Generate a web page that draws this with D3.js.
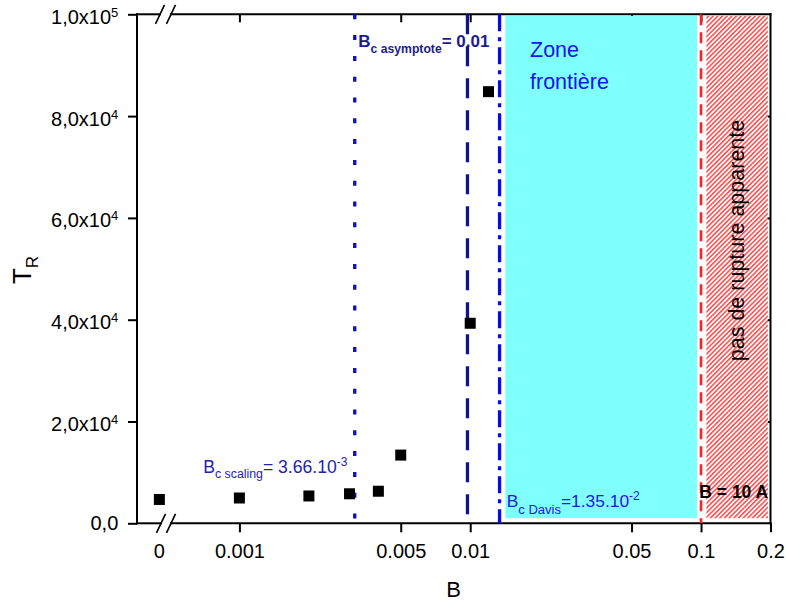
<!DOCTYPE html>
<html><head><meta charset="utf-8">
<script src="https://cdn.jsdelivr.net/npm/d3@7"></script>
<style>body{margin:0;background:#fff} svg{display:block;font-family:"Liberation Sans",Arial,sans-serif}</style>
</head><body><svg id="c" width="788" height="608"></svg>
<script>
// ---- data ----
const B  = [0, 0.001, 0.002, 0.003, 0.004, 0.005, 0.01, 0.012];
const TR = [4680, 4970, 5370, 5800, 6300, 13400, 39300, 84800];
const xTickValues = [0.001, 0.005, 0.01, 0.05, 0.1, 0.2];
const xTickLabels = ["0.001", "0.005", "0.01", "0.05", "0.1", "0.2"];
const zeroTickLabel = "0";
const ZERO_STANDIN = 0.00045;   // where B = 0 sits after the axis break
const yTickValues = [0, 20000, 40000, 60000, 80000, 100000];
const yTickMantissa = ["0,0", "2,0x10", "4,0x10", "6,0x10", "8,0x10", "1,0x10"];
const yTickExponent = ["", "4", "4", "4", "4", "5"];
const lineScaling = 0.00316, lineAsymptote = 0.00973, lineDavis = 0.0134, lineRupture = 0.1;
const zoneFrontiere = [0.0142, 0.0961];
const zoneRupture = [0.1055, 0.1948];
const zoneTR = [1000, 99700];

// ---- setup ----
const svg = d3.select("#c");
const L = 137, R = 770.5, T = 14.3, Bm = 523.3;
const x = d3.scaleLog().domain([0.00036, 0.2]).range([L, R]);
const y = d3.scaleLinear().domain([0, 100000]).range([Bm, T]);
const xp = v => v === 0 ? x(ZERO_STANDIN) : x(v);

const defs = svg.append("defs");
const pat = defs.append("pattern").attr("id", "hatch").attr("patternUnits", "userSpaceOnUse")
  .attr("width", 3.3).attr("height", 10).attr("patternTransform", "rotate(45)");
pat.append("rect").attr("width", 3.3).attr("height", 10).attr("fill", "#fff");
pat.append("line").attr("x1", 0.8).attr("x2", 0.8).attr("y1", 0).attr("y2", 10)
  .attr("stroke", "#ff2a2a").attr("stroke-width", 1.3);

// ---- axes ----
function styleTicks(g) {
  g.select(".domain").remove();
  g.selectAll(".tick line").attr("stroke", "#000").attr("stroke-width", 2);
  g.selectAll(".tick text").attr("fill", "#000").attr("font-size", 20)
    .attr("font-family", "'Liberation Sans', Arial, sans-serif");
}
const gx = svg.append("g").attr("transform", `translate(0,${Bm})`)
  .call(d3.axisBottom(x).tickValues(xTickValues).tickFormat((d, i) => xTickLabels[i]).tickSize(9).tickPadding(11.5));
styleTicks(gx);
gx.append("text").attr("x", xp(0)).attr("y", 20.5).attr("dy", "0.71em").attr("text-anchor", "middle")
  .attr("fill", "#000").attr("font-size", 20).text(zeroTickLabel);

const gxt = svg.append("g").attr("transform", `translate(0,${T})`)
  .call(d3.axisTop(x).tickValues(xTickValues.slice(0, 5)).tickFormat("").tickSize(-8));
styleTicks(gxt);

const gy = svg.append("g").attr("transform", `translate(${L},0)`)
  .call(d3.axisLeft(y).tickValues(yTickValues).tickFormat("").tickSize(9).tickPadding(9.7));
styleTicks(gy);
gy.selectAll(".tick text").each(function (d, i) {
  const t = d3.select(this);
  t.attr("dy", yTickExponent[i] ? "0.45em" : "0.33em");
  t.append("tspan").text(yTickMantissa[i]);
  if (yTickExponent[i]) t.append("tspan").attr("font-size", 13).attr("dy", -7).text(yTickExponent[i]);
});

const gyr = svg.append("g").attr("transform", `translate(${R},0)`)
  .call(d3.axisRight(y).tickValues(yTickValues.slice(1, 5)).tickFormat("").tickSize(-4));
styleTicks(gyr);

// frame lines with breaks
const frame = svg.append("g").attr("stroke", "#000").attr("stroke-width", 2).attr("stroke-linecap", "square");
frame.append("line").attr("x1", L).attr("x2", 161).attr("y1", Bm).attr("y2", Bm);
frame.append("line").attr("x1", 171).attr("x2", R).attr("y1", Bm).attr("y2", Bm);
frame.append("line").attr("x1", L).attr("x2", 160).attr("y1", T).attr("y2", T);
frame.append("line").attr("x1", 171).attr("x2", R).attr("y1", T).attr("y2", T);
frame.append("line").attr("x1", L).attr("x2", L).attr("y1", T).attr("y2", Bm);
frame.append("line").attr("x1", R).attr("x2", R).attr("y1", T).attr("y2", Bm);
[[161, Bm], [171, Bm], [160, T], [171, T]].forEach(([cx, cy]) => {
  svg.append("line").attr("x1", cx - 4.5).attr("y1", cy + 9.5).attr("x2", cx + 4.5).attr("y2", cy - 9.5)
    .attr("stroke", "#000").attr("stroke-width", 1.6);
});

// ---- zones ----
svg.append("rect").attr("x", x(zoneFrontiere[0])).attr("width", x(zoneFrontiere[1]) - x(zoneFrontiere[0]))
  .attr("y", y(zoneTR[1])).attr("height", y(zoneTR[0]) - y(zoneTR[1])).attr("fill", "#80ffff");
svg.append("rect").attr("x", x(zoneRupture[0])).attr("width", x(zoneRupture[1]) - x(zoneRupture[0]))
  .attr("y", y(zoneTR[1])).attr("height", y(zoneTR[0]) - y(zoneTR[1])).attr("fill", "url(#hatch)");

// ---- vertical lines ----
function vline(v, color, w, dash) {
  svg.append("line").attr("x1", x(v)).attr("x2", x(v)).attr("y1", T).attr("y2", Bm)
    .attr("stroke", color).attr("stroke-width", w).attr("stroke-dasharray", dash);
}
vline(lineScaling, "#1010b0", 3.3, "5,15.8");
vline(lineAsymptote, "#12128c", 3.3, "20,12");
vline(lineDavis, "#0a0ae6", 3.3, "17,6,4,6");
vline(lineRupture, "#ff2020", 2.6, "11,7");

// ---- texts ----
function rich(xx, yy, color, parts, weight) {
  const t = svg.append("text").attr("x", xx).attr("y", yy).attr("fill", color).attr("font-weight", weight || "normal");
  parts.forEach(p => t.append("tspan").attr("font-size", p[1]).attr("dy", p[2] || 0).text(p[0]));
  return t;
}
rich(358.3, 46.7, "#1c1c8e", [["B", 17], ["c asymptote", 12.2, 6], ["= 0.01", 17, -6]], "bold");
rich(530, 56.7, "#1616e6", [["Zone", 21.5]]);
rich(530, 89.3, "#1616e6", [["frontière", 21.5]]);
rich(506.7, 507.3, "#1a1ad8", [["B", 17.4], ["c Davis", 13, 7], ["=1.35.10", 17.4, -7], ["-2", 12, -7]]);
rich(203.3, 472.7, "#2222b0", [["B", 17.6], ["c scaling", 12.3, 5.5], ["= 3.66.10", 17.6, -5.5], ["-3", 12, -7]]);
rich(699.3, 498.3, "#000", [["B = 10 A", 17.5]], "bold");
svg.append("text").attr("transform", "translate(744,240.5) rotate(-90)").attr("text-anchor", "middle")
  .attr("font-size", 21.5).attr("fill", "#000").text("pas de rupture apparente");

// axis titles
svg.append("text").attr("x", 453.5).attr("y", 597).attr("text-anchor", "middle").attr("font-size", 22).attr("fill", "#000").text("B");
const ty = svg.append("text").attr("transform", "translate(30.6,270) rotate(-90)").attr("text-anchor", "middle").attr("fill", "#000");
ty.append("tspan").attr("font-size", 26).text("T");
ty.append("tspan").attr("font-size", 17).attr("dy", 7.7).text("R");

// ---- points ----
svg.append("g").selectAll("rect").data(B).join("rect")
  .attr("x", (d) => xp(d) - 5.5).attr("y", (d, i) => y(TR[i]) - 5.5)
  .attr("width", 11).attr("height", 11).attr("fill", "#000");
</script></body></html>
